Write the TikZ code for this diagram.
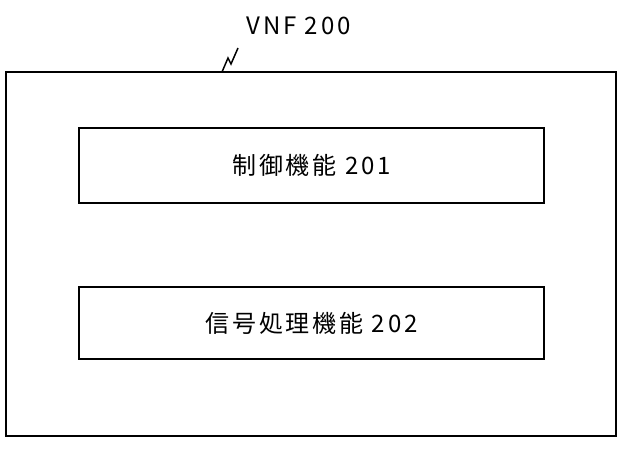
\documentclass[tikz,border=0pt]{standalone}
\usepackage{fontspec}
\setmainfont{Noto Sans CJK JP}[LetterSpace=12]
\begin{document}
\begin{tikzpicture}[x=1pt,y=-1pt,
  box/.style={draw,line width=1.6pt},
  lbl/.style={font=\fontsize{24}{28}\selectfont}]
\useasboundingbox (0,0) rectangle (622,465);
\draw[box] (6,72) rectangle (616,436);
\node[box,minimum width=465pt,minimum height=75pt,lbl] (a) at (311.5,165.5) {制御機能\ 201};
\node[box,minimum width=465pt,minimum height=72pt,lbl] (b) at (311.5,323) {信号処理機能\ 202};
\node[lbl,anchor=west] (t) at (243,26) {VNF 200};
\coordinate (s1) at (222,72);
\coordinate (s2) at (238,48);
\draw[line width=1.5pt] (s1) -- (228,58) -- (231,64) -- (s2);
\end{tikzpicture}
\end{document}
